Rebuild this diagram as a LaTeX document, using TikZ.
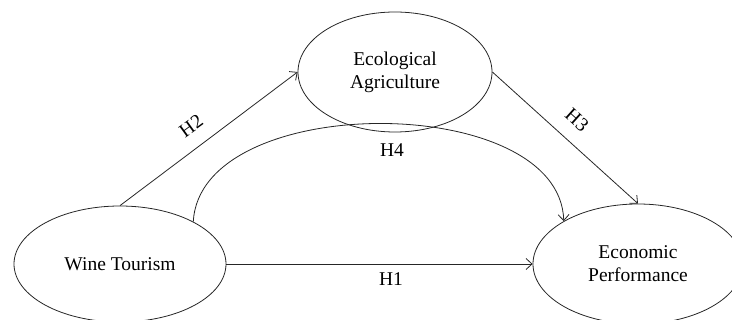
\documentclass[tikz,border=0pt]{standalone}
\usepackage{fontspec}
\setmainfont{Liberation Serif}
\usetikzlibrary{shapes.geometric,arrows.meta}
\tikzset{
  construct/.style={draw=black!85, line width=0.8pt, ellipse, inner sep=0pt, align=center},
  link/.style={draw=black!85, line width=0.8pt, -{Straight Barb[length=6pt,width=11pt,line width=0.8pt]}},
  hlabel/.style={inner sep=1pt}
}
\begin{document}
\begin{tikzpicture}[x=1pt,y=-1pt,font=\fontsize{19.5}{23}\selectfont]
\useasboundingbox (0,0) rectangle (732,320);
\node[construct, minimum width=212pt, minimum height=116pt] (wine) at (120,264) {Wine Tourism};
\node[construct, minimum width=194pt, minimum height=120pt] (eco) at (395,72) {Ecological\\Agriculture};
\node[construct, minimum width=210pt, minimum height=120pt] (econ) at (638,264) {Economic\\Performance};
\draw[link] (wine.east) -- (econ.west);
\draw[link] (wine.north) -- (eco.west);
\draw[link] (eco.east) -- (econ.north);
\draw[link] (wine.30) .. controls (200,91) and (560,91) .. (econ.150);
\node[hlabel] (h1) at (391,279) {H1};
\node[hlabel, rotate=36] (h2) at (191,126) {H2};
\node[hlabel, rotate=-42] (h3) at (577,120) {H3};
\node[hlabel] (h4) at (392,150) {H4};
\end{tikzpicture}
\end{document}
